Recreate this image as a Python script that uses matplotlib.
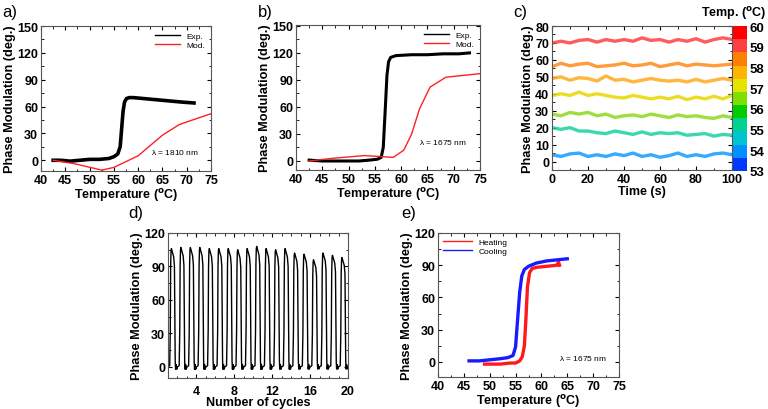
import numpy as np
import matplotlib
matplotlib.use('Agg')
import matplotlib.pyplot as plt
from matplotlib.colors import ListedColormap, Normalize
from matplotlib.cm import ScalarMappable
from matplotlib.ticker import AutoMinorLocator

plt.rcParams['font.family'] = ['Liberation Sans', 'DejaVu Sans']
plt.rcParams['font.weight'] = 'bold'
plt.rcParams['mathtext.default'] = 'bf'

# ---- data ----
# a) lambda = 1810 nm
a_exp_T = [42.5, 44, 46, 48, 50, 52, 54, 55, 55.8, 56.3, 56.6, 56.9, 57.2, 57.6, 58.2, 59, 61, 63, 65, 67, 69, 71.5]
a_exp_P = [0, 0, -1, 0, 1, 1, 2, 4, 7, 15, 35, 55, 65, 69, 70, 70, 69, 68, 67, 66, 65, 64]
a_mod_T = [42.5, 47, 52.5, 55, 60, 65, 68.5, 75]
a_mod_P = [0, -4, -11, -8, 5, 28, 40, 52]

# b) lambda = 1675 nm
b_exp_T = [42.5, 45, 48, 50, 52, 54, 55.5, 56.2, 56.6, 57.0, 57.3, 57.6, 58.0, 59, 62, 65, 68, 71, 73]
b_exp_P = [1, 0, 0, 0, 0, 1, 2, 4, 15, 60, 95, 110, 115, 117, 118, 118, 119, 119, 120]
b_mod_T = [42.5, 47, 53, 56, 58.5, 60.5, 62, 63.5, 65.5, 68.5, 75]
b_mod_P = [0, 3, 6, 5, 4, 12, 30, 58, 82, 93, 97]

# c) stability traces at fixed temperature
c_time = [0, 5, 10, 15, 20, 25, 30, 35, 40, 45, 50, 55, 60, 65, 70, 75, 80, 85, 90, 95, 100]
c_traces = [
    [70, 71, 70, 71.5, 72, 70.5, 72, 71, 72, 71, 73, 71.5, 72, 70.5, 72, 71, 72.5, 70.5, 72, 73, 72],
    [56, 58, 56.5, 57.5, 58, 56, 56.5, 57, 58, 56.5, 57, 58, 56, 57, 58, 56.5, 57.5, 57, 56.5, 57, 57.5],
    [49, 50, 48, 49.5, 49, 47.5, 50.5, 48, 48.5, 47, 48, 49, 48, 47.5, 48, 47, 48.5, 47, 48, 49, 48],
    [39, 40, 39, 41, 39, 40, 39, 38, 37.5, 39, 38, 37, 38, 37, 38.5, 36.5, 38, 37, 38.5, 37, 39],
    [28, 27, 29, 28, 29, 27, 28, 26, 27, 27.5, 26.5, 28, 27, 26, 27.5, 26.5, 27, 26, 25.5, 27, 26],
    [20, 19, 20, 18, 18, 17, 16.5, 18, 17, 16, 17.5, 16, 17, 16.5, 17, 15.5, 16, 16.5, 15, 16, 15.5],
    [4, 3, 4.5, 5, 3, 4, 3, 4.5, 3.5, 5, 3, 4, 2.5, 3.5, 5, 3, 4, 3, 4.5, 5, 4],
]
c_colors = ['#ff4040', '#ff8a1a', '#ffaa1a', '#e8d800', '#8fd81c', '#19d2a0', '#109cff']
cbar_colors = ['#0038ff', '#0090ff', '#00c4d0', '#00d290', '#00cc00', '#7ee000',
               '#e4e400', '#ffb400', '#ff8000', '#ff4040', '#ff0000']
cbar_ticks = [53, 54, 55, 56, 57, 58, 59, 60]

# d) switching cycles: peak height per cycle and the shape of one cycle
d_peaks = [106, 107, 107, 107, 106, 106, 106, 105, 106, 108, 106, 105, 106, 102, 101, 96, 102, 100, 98]
d_phase = [0.00, 0.18, 0.24, 0.28, 0.32, 0.36, 0.46, 0.60, 0.68, 0.72, 0.76, 0.80, 0.86, 0.92, 1.00]
d_shape = [0.00, 0.01, 0.30, 0.85, 0.98, 1.00, 0.97, 0.93, 0.85, 0.40, 0.05, -0.02, 0.02, -0.02, 0.00]

# e) heating / cooling hysteresis, lambda = 1675 nm
e_heat_T = [49, 50, 52, 54, 55, 55.8, 56.3, 56.7, 57.0, 57.3, 57.7, 58.2, 59, 61, 63, 63.3, 63.5]
e_heat_P = [-2, -2, -2, -1, -1, 1, 5, 15, 40, 70, 83, 87, 88, 89, 90, 93, 90]
e_cool_T = [46, 48, 50, 52, 53.5, 54.5, 55.0, 55.4, 55.8, 56.2, 56.7, 57.5, 59, 61, 63, 65]
e_cool_P = [1, 1, 2, 3, 4, 6, 14, 40, 65, 80, 86, 89, 92, 94, 95, 96]

W, H = 768, 410
fig = plt.figure(figsize=(W / 100, H / 100), dpi=100)

TICK = 9
XLAB = 9
YLAB = 9.2


def rect(l, t, r, b):
    return [l / W, 1 - b / H, (r - l) / W, (b - t) / H]


def style(ax, xmaj, ymaj):
    ax.xaxis.set_major_locator(plt.MultipleLocator(xmaj))
    ax.yaxis.set_major_locator(plt.MultipleLocator(ymaj))
    ax.xaxis.set_minor_locator(AutoMinorLocator(2))
    ax.yaxis.set_minor_locator(AutoMinorLocator(2))
    ax.tick_params(which='both', direction='in', top=True, right=True, labelsize=TICK, pad=2)
    ax.tick_params(which='major', length=3)
    ax.tick_params(which='minor', length=1.8)
    for s in ax.spines.values():
        s.set_linewidth(0.8)
        s.set_color('#555555')
    for lab in ax.get_xticklabels() + ax.get_yticklabels():
        lab.set_fontweight('bold')


def thin_legend(leg):
    for h in leg.legend_handles:
        h.set_linewidth(1.0)


ylab = 'Phase Modulation (deg.)'
tlab = r'Temperature ($^{o}$C)'

# a)
ax = fig.add_axes(rect(41, 27, 211, 172))
ax.plot(a_exp_T, a_exp_P, color='black', lw=2.6, label='Exp.')
ax.plot(a_mod_T, a_mod_P, color='#ff2020', lw=1.0, label='Mod.')
ax.set_xlim(40, 75)
ax.set_ylim(-12, 150)
style(ax, 5, 30)
ax.set_xlabel(tlab, fontsize=XLAB, fontweight='bold', labelpad=0)
ax.set_ylabel(ylab, fontsize=YLAB, fontweight='bold', labelpad=1)
thin_legend(ax.legend(loc='upper right', frameon=False, handlelength=3.0,
                      borderaxespad=0.3, labelspacing=0.2, prop={'size': 6, 'weight': 'normal'}))
ax.text(0.93, 0.12, r'$\mathregular{\lambda}$ = 1810 nm', transform=ax.transAxes, ha='right',
        fontsize=6, fontweight='normal')
fig.text(2 / W, 1 - 13 / H, 'a)', fontsize=12, fontweight='normal', va='center')

# b)
ax = fig.add_axes(rect(296, 26, 480, 171))
ax.plot(b_exp_T, b_exp_P, color='black', lw=2.2, label='Exp.')
ax.plot(b_mod_T, b_mod_P, color='#ff2020', lw=1.0, label='Mod.')
ax.set_xlim(40, 75)
ax.set_ylim(-10, 151)
style(ax, 5, 30)
ax.set_xlabel(tlab, fontsize=XLAB, fontweight='bold', labelpad=0)
ax.set_ylabel(ylab, fontsize=YLAB, fontweight='bold', labelpad=1)
thin_legend(ax.legend(loc='upper right', frameon=False, handlelength=3.0,
                      borderaxespad=0.3, labelspacing=0.2, prop={'size': 6, 'weight': 'normal'}))
ax.text(0.93, 0.18, r'$\mathregular{\lambda}$ = 1675 nm', transform=ax.transAxes, ha='right',
        fontsize=6, fontweight='normal')
fig.text(258 / W, 1 - 13 / H, 'b)', fontsize=12, fontweight='normal', va='center')

# c)
ax = fig.add_axes(rect(552, 27, 732, 171))
for vals, col in zip(c_traces, c_colors):
    ax.plot(c_time, vals, color=col, lw=2.4, alpha=0.85)
ax.set_xlim(0, 100)
ax.set_ylim(-5, 80)
style(ax, 20, 10)
ax.set_xlabel('Time (s)', fontsize=XLAB, fontweight='bold', labelpad=0)
ax.set_ylabel(ylab, fontsize=YLAB, fontweight='bold', labelpad=1)
fig.text(513 / W, 1 - 13 / H, 'c)', fontsize=12, fontweight='normal', va='center')

cax = fig.add_axes(rect(733, 27, 747, 172))
sm = ScalarMappable(norm=Normalize(53, 60), cmap=ListedColormap(cbar_colors))
cb = fig.colorbar(sm, cax=cax, ticks=cbar_ticks)
cb.outline.set_linewidth(0)
cax.tick_params(length=0, labelsize=9.5, pad=2)
for lab in cax.get_yticklabels():
    lab.set_fontweight('bold')
fig.text(767 / W, 1 - 14 / H, r'Temp. ($^{o}$C)', fontsize=9, fontweight='bold',
         ha='right', va='center')

# d)
ax = fig.add_axes(rect(168, 234, 348, 379))
d_x, d_y = [], []
for k, peak in enumerate(d_peaks):
    for ph, sh in zip(d_phase, d_shape):
        d_x.append(1 + k + ph)
        d_y.append(peak * sh)
ax.plot(d_x, d_y, color='black', lw=1.0)
ax.set_xlim(1, 20)
ax.set_ylim(-10, 120)
style(ax, 4, 30)
ax.xaxis.set_minor_locator(AutoMinorLocator(4))
ax.tick_params(axis='x', pad=5)
ax.set_xlabel('Number of cycles', fontsize=XLAB, fontweight='bold', labelpad=-1)
ax.set_ylabel(ylab, fontsize=YLAB, fontweight='bold', labelpad=1)
fig.text(128 / W, 1 - 214 / H, 'd)', fontsize=12, fontweight='normal', va='center')

# e)
ax = fig.add_axes(rect(438, 234, 619, 378))
ax.plot(e_heat_T, e_heat_P, color='#ff1a1a', lw=2.4, label='Heating')
ax.plot(e_cool_T, e_cool_P, color='#1a1aff', lw=2.4, label='Cooling')
ax.set_xlim(40, 75)
ax.set_ylim(-14, 120)
style(ax, 5, 30)
ax.set_xlabel(tlab, fontsize=XLAB, fontweight='bold', labelpad=0)
ax.set_ylabel(ylab, fontsize=YLAB, fontweight='bold', labelpad=1)
thin_legend(ax.legend(loc='upper left', frameon=False, handlelength=3.5, borderaxespad=0.2,
                      labelspacing=0.2, prop={'size': 6, 'weight': 'normal'}))
ax.text(0.93, 0.12, r'$\mathregular{\lambda}$ = 1675 nm', transform=ax.transAxes, ha='right',
        fontsize=6, fontweight='normal')
fig.text(401 / W, 1 - 214 / H, 'e)', fontsize=12, fontweight='normal', va='center')

fig.savefig('out.png', dpi=100)
